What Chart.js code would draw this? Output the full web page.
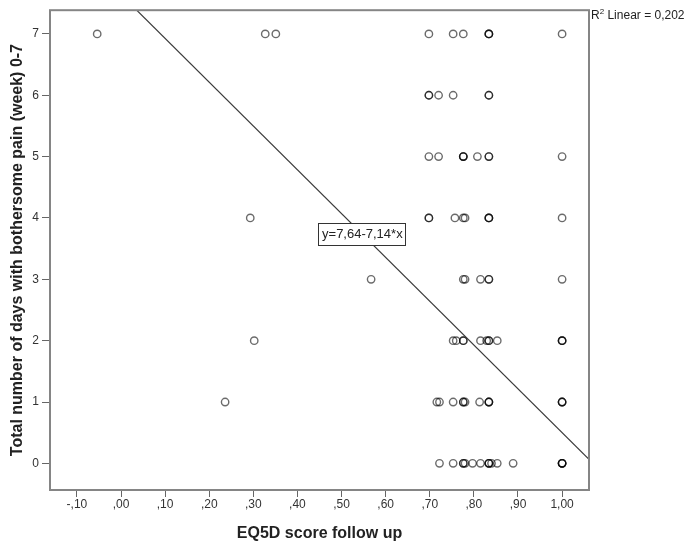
<!DOCTYPE html>
<html>
<head>
<meta charset="utf-8">
<title>EQ5D vs days with bothersome pain</title>
<script src="https://cdn.jsdelivr.net/npm/chart.js@4.4.0/dist/chart.umd.min.js"></script>
<style>
    html, body { margin: 0; padding: 0; background: #fff; }
    #chart { display: block; }
</style>
</head>
<body>
<canvas id="chart" width="689" height="541"></canvas>
<script>
// EQ5D follow-up scores, grouped by number of days with bothersome pain (0-7)
const scoresDay0 = [0.722, 0.753, 0.776, 0.776, 0.780, 0.797, 0.815, 0.834, 0.834, 0.834, 0.840, 0.853, 0.889, 1.0, 1.0, 1.0, 1.0];
const scoresDay1 = [0.236, 0.716, 0.722, 0.753, 0.776, 0.776, 0.780, 0.813, 0.834, 0.834, 0.834, 1.0, 1.0, 1.0];
const scoresDay2 = [0.302, 0.753, 0.760, 0.776, 0.776, 0.815, 0.829, 0.834, 0.834, 0.853, 1.0, 1.0, 1.0];
const scoresDay3 = [0.567, 0.776, 0.780, 0.815, 0.834, 0.834, 1.0];
const scoresDay4 = [0.293, 0.698, 0.698, 0.757, 0.776, 0.780, 0.834, 0.834, 0.834, 1.0];
const scoresDay5 = [0.698, 0.720, 0.776, 0.776, 0.776, 0.808, 0.834, 0.834, 1.0];
const scoresDay6 = [0.698, 0.698, 0.720, 0.753, 0.834, 0.834];
const scoresDay7 = [-0.054, 0.327, 0.351, 0.698, 0.753, 0.776, 0.834, 0.834, 0.834, 1.0];

const dayGroups = [scoresDay0, scoresDay1, scoresDay2, scoresDay3, scoresDay4, scoresDay5, scoresDay6, scoresDay7];

// axis ticks
const xTickValues = [-0.1, 0, 0.1, 0.2, 0.3, 0.4, 0.5, 0.6, 0.7, 0.8, 0.9, 1.0];
const xTickLabels = ['-,10', ',00', ',10', ',20', ',30', ',40', ',50', ',60', ',70', ',80', ',90', '1,00'];
const yTickValues = [0, 1, 2, 3, 4, 5, 6, 7];

// linear fit
const fitIntercept = 7.64;
const fitSlope = -7.14;
const rSquaredText = '0,202';
const fitLabelAt = 0.546;

const xMin = -0.161, xMax = 1.061;
const yMin = -0.434, yMax = 7.386;

const FONT = '"Liberation Sans", Arial, sans-serif';

const points = [];
dayGroups.forEach((scores, day) => {
    scores.forEach(s => points.push({ x: s, y: day }));
});

const fitLine = [xMin, xMax].map(v => ({ x: v, y: fitIntercept + fitSlope * v }));

const comma = v => v.toFixed(2).replace('.', ',');
const equationText = 'y=' + comma(fitIntercept) + '-' + comma(-fitSlope) + '*x';

// frame around the plot, equation box and R² note
const spssDecor = {
    id: 'spssDecor',
    afterDatasetsDraw(chart) {
        const { ctx, chartArea: a, scales: { x, y } } = chart;
        ctx.save();

        ctx.strokeStyle = '#858585';
        ctx.lineWidth = 2;
        ctx.strokeRect(a.left, a.top, a.right - a.left, a.bottom - a.top);

        const px = x.getPixelForValue(fitLabelAt);
        const py = y.getPixelForValue(fitIntercept + fitSlope * fitLabelAt);
        ctx.font = '13px ' + FONT;
        const w = Math.round(ctx.measureText(equationText).width + 6);
        const h = 22;
        const bx = Math.round(px - w / 2), by = Math.round(py - h / 2);
        ctx.fillStyle = '#fff';
        ctx.fillRect(bx, by, w, h);
        ctx.strokeStyle = '#333';
        ctx.lineWidth = 1;
        ctx.strokeRect(bx + 0.5, by + 0.5, w, h);
        ctx.fillStyle = '#222';
        ctx.textAlign = 'center';
        ctx.textBaseline = 'middle';
        ctx.fillText(equationText, px + 0.5, py + 1);

        ctx.textAlign = 'left';
        ctx.textBaseline = 'alphabetic';
        let tx = a.right + 2;
        const base = 19;
        ctx.font = '12px ' + FONT;
        ctx.fillText('R', tx, base);
        tx += ctx.measureText('R').width;
        ctx.font = '8px ' + FONT;
        ctx.fillText('2', tx, base - 5);
        tx += ctx.measureText('2').width;
        ctx.font = '12px ' + FONT;
        ctx.fillText(' Linear = ' + rSquaredText, tx, base);

        ctx.restore();
    }
};

new Chart(document.getElementById('chart'), {
    type: 'scatter',
    data: {
        datasets: [
            {
                label: 'Cases',
                data: points,
                pointStyle: 'circle',
                pointRadius: 3.7,
                pointBorderWidth: 1.4,
                pointBorderColor: 'rgba(0, 0, 0, 0.58)',
                pointBackgroundColor: 'rgba(0, 0, 0, 0)',
                order: 2
            },
            {
                label: 'Linear fit',
                data: fitLine,
                showLine: true,
                borderColor: '#3a3a3a',
                borderWidth: 1.2,
                pointRadius: 0,
                order: 1
            }
        ]
    },
    options: {
        responsive: false,
        animation: false,
        layout: { padding: { top: 4, right: 100, left: 0, bottom: 0 } },
        plugins: {
            legend: { display: false },
            tooltip: { enabled: false }
        },
        scales: {
            x: {
                type: 'linear',
                min: xMin,
                max: xMax,
                afterFit: s => { s.height = 51; },
                afterBuildTicks: s => { s.ticks = xTickValues.map(v => ({ value: v })); },
                grid: { drawOnChartArea: false, drawTicks: true, tickLength: 7, color: '#666' },
                border: { display: false },
                ticks: {
                    autoSkip: false,
                    maxRotation: 0,
                    padding: 0,
                    color: '#333',
                    font: { family: FONT, size: 12 },
                    callback: (v, i) => xTickLabels[i]
                },
                title: {
                    display: true,
                    text: 'EQ5D score follow up',
                    color: '#222',
                    font: { family: FONT, size: 16, weight: 'bold', lineHeight: 1 },
                    padding: { top: 0, bottom: -1 }
                }
            },
            y: {
                type: 'linear',
                min: yMin,
                max: yMax,
                afterFit: s => { s.width = 50; },
                afterBuildTicks: s => { s.ticks = yTickValues.map(v => ({ value: v })); },
                grid: { drawOnChartArea: false, drawTicks: true, tickLength: 8, color: '#666' },
                border: { display: false },
                ticks: {
                    padding: 3,
                    color: '#333',
                    font: { family: FONT, size: 12 }
                },
                title: {
                    display: true,
                    text: 'Total number of days with bothersome pain (week) 0-7',
                    color: '#222',
                    font: { family: FONT, size: 16, weight: 'bold', lineHeight: 1 },
                    padding: { top: 10, bottom: 0 }
                }
            }
        }
    },
    plugins: [spssDecor]
});
</script>
</body>
</html>
